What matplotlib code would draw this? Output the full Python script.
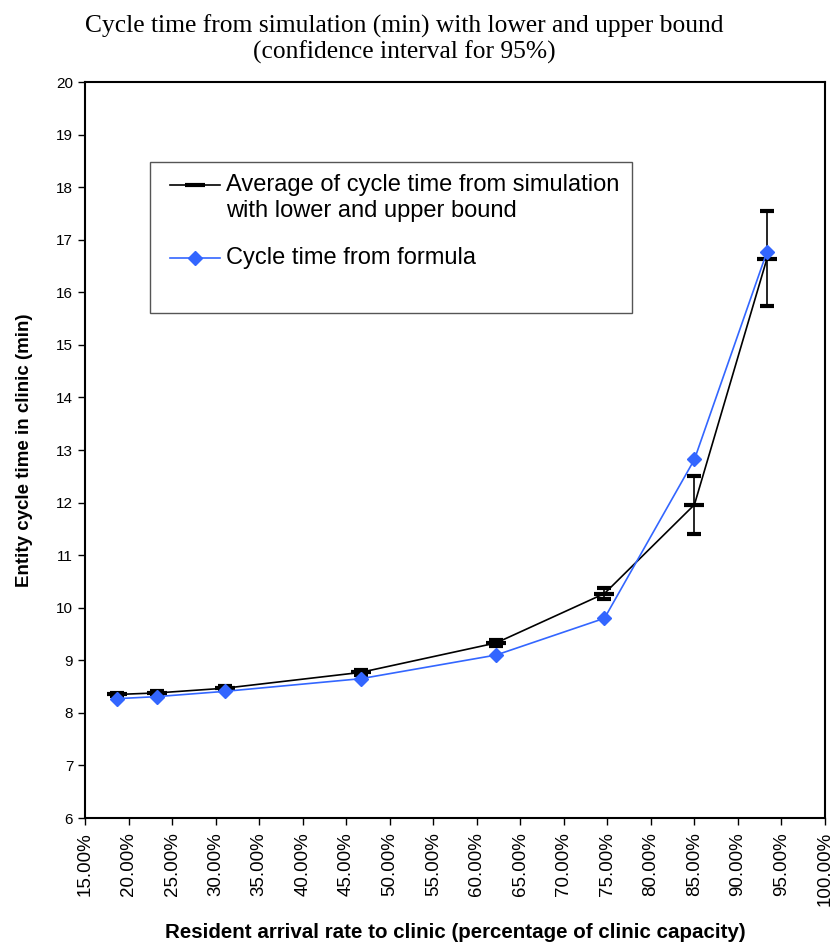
import numpy as np
import matplotlib.pyplot as plt
from matplotlib.lines import Line2D

# Datos
arrival_rate = [18.67, 23.33, 31.11, 46.67, 62.22, 74.67, 85.00, 93.33]   # % de capacidad
sim_mean = [8.35, 8.38, 8.47, 8.77, 9.33, 10.27, 11.96, 16.64]
sim_err = [0.03, 0.03, 0.04, 0.05, 0.06, 0.10, 0.55, 0.90]
formula = [8.27, 8.31, 8.41, 8.65, 9.10, 9.80, 12.82, 16.77]

y_ticks = list(range(6, 21))
x_ticks = list(range(15, 101, 5))
x_tick_labels = [f"{v:.2f}%" for v in x_ticks]

sim_label = ['Average of cycle time from simulation', 'with lower and upper bound']
formula_label = 'Cycle time from formula'
blue = '#3366ff'

plt.rcParams['font.family'] = ['Liberation Sans', 'DejaVu Sans']

fig = plt.figure(figsize=(8.38, 9.47), dpi=100)
ax = fig.add_axes([0.1014, 0.1362, 0.8831, 0.7772])

# Serie simulacion con intervalo de confianza
ax.errorbar(arrival_rate, sim_mean, yerr=sim_err, color='black', lw=1.2,
            marker='_', markersize=14, mew=3, ecolor='black', elinewidth=1.2,
            capsize=5, capthick=1.2, zorder=3)
# Serie formula
ax.plot(arrival_rate, formula, color=blue, lw=1.2, marker='D', markersize=7.5, zorder=4)

ax.set_xlim(15, 100)
ax.set_ylim(6, 20)
ax.set_xticks(x_ticks)
ax.set_xticklabels(x_tick_labels, rotation=90, fontsize=13.5)
ax.set_yticks(y_ticks)
ax.tick_params(axis='y', labelsize=11, length=5, width=1)
ax.tick_params(axis='x', length=5, width=1, pad=5)
for s in ax.spines.values():
    s.set_linewidth(1.5)

ax.set_ylabel('Entity cycle time in clinic (min)', fontsize=13.5, fontweight='bold')
ax.yaxis.set_label_coords(-0.070, 0.5)
ax.set_xlabel('Resident arrival rate to clinic (percentage of clinic capacity)',
              fontsize=14.8, fontweight='bold')
ax.xaxis.set_label_coords(0.5, -0.142)

fig.text(0.482, 0.9585, 'Cycle time from simulation (min) with lower and upper bound\n(confidence interval for 95%)',
         ha='center', va='center', fontsize=18.4, family='Liberation Serif', linespacing=1.12)

# Leyenda dibujada a mano (como en Excel)
leg_box = plt.Rectangle((0.0878, 0.686), 0.651, 0.205, transform=ax.transAxes,
                        fill=False, edgecolor='#555555', lw=1, zorder=5)
ax.add_patch(leg_box)
ax.add_line(Line2D([0.1149, 0.1824], [0.8601, 0.8601], transform=ax.transAxes,
                   color='black', lw=1.2, zorder=6))
ax.add_line(Line2D([0.1486], [0.8601], transform=ax.transAxes, color='black',
                   marker='_', markersize=14, mew=3, zorder=6))
ax.add_line(Line2D([0.1149, 0.1824], [0.7609, 0.7609], transform=ax.transAxes,
                   color=blue, lw=1.2, zorder=6))
ax.add_line(Line2D([0.1486], [0.7609], transform=ax.transAxes, color=blue,
                   marker='D', markersize=7.5, zorder=6))
ax.text(0.1905, 0.8601, sim_label[0], transform=ax.transAxes, va='center', fontsize=17)
ax.text(0.1905, 0.8247, sim_label[1], transform=ax.transAxes, va='center', fontsize=17)
ax.text(0.1905, 0.7609, formula_label, transform=ax.transAxes, va='center', fontsize=17)

plt.savefig('out.png', dpi=100)
